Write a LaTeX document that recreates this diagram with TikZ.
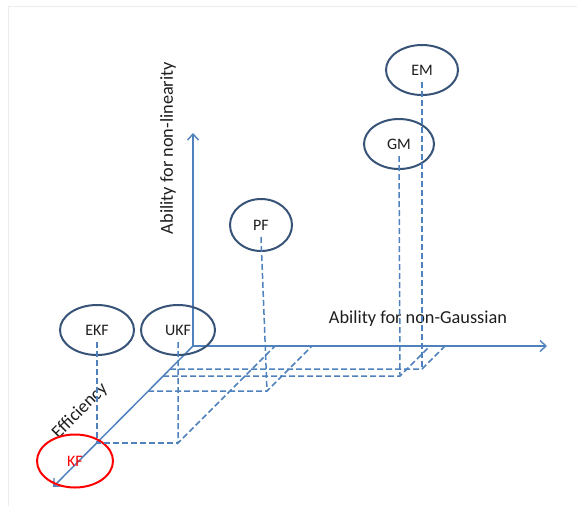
\documentclass[tikz,border=0pt]{standalone}
\usepackage{fontspec}
\setmainfont{Carlito}
\usetikzlibrary{arrows.meta,shapes.geometric}
\definecolor{axisblue}{RGB}{79,129,189}
\definecolor{ringblue}{RGB}{56,83,120}
\definecolor{txtdark}{RGB}{30,30,30}
\definecolor{framegray}{RGB}{236,236,236}
\tikzset{
  axisline/.style={draw=axisblue, line width=1.5pt, -{Straight Barb[length=6pt,width=11pt,line width=1.4pt]}},
  proj/.style={draw=axisblue, line width=1.5pt, dash pattern=on 6pt off 3pt},
  method/.style={ellipse, draw=ringblue, line width=2pt, minimum width=74pt, minimum height=50pt, inner sep=0pt, font=\fontsize{16}{18}\selectfont, text=txtdark},
  redmethod/.style={method, draw=red, text=red},
  axislabel/.style={font=\fontsize{18.3}{20}\selectfont, text=txtdark, inner sep=0pt}
}
\begin{document}
\begin{tikzpicture}[x=1pt,y=-1pt]
\useasboundingbox (0,0) rectangle (577,506);
\draw[framegray, line width=1pt] (8,506) -- (8,6) -- (577,6);
% axes
\coordinate (O) at (193,346);
\coordinate (ytip) at (193,133);
\coordinate (xtip) at (547,346);
\coordinate (ztip) at (53,487);
\draw[axisline] (O) -- (ytip);
\draw[axisline] (O) -- (xtip);
\draw[axisline] (O) -- (ztip);
% labels
\node[axislabel, rotate=90] (lnl) at (168,148) {Ability for non-linearity};
\node[axislabel] (lng) at (418,319) {Ability for non-Gaussian};
\node[axislabel, rotate=45] (leff) at (80,411) {Efficiency};
% methods
\node[method] (EKF) at (97,330) {EKF};
\node[method] (UKF) at (178,330) {UKF};
\node[method, minimum width=62pt, minimum height=52pt] (PF) at (261,225) {PF};
\node[method, minimum width=70pt] (GM) at (399,144) {GM};
\node[method, minimum width=72pt] (EM) at (422,70) {EM};
\node[redmethod, minimum width=76pt, minimum height=53pt] (KF) at (75,461) {KF};
% projection points
\coordinate (ekfB) at (97,443);
\coordinate (ukfB) at (178,443);
\coordinate (ukfX) at (275,346);
\coordinate (pfB) at (267,391);
\coordinate (pfZ) at (148,391);
\coordinate (pfX) at (312,346);
\coordinate (gmB) at (400,376);
\coordinate (gmZ) at (163,376);
\coordinate (gmX) at (430,346);
\coordinate (emB) at (422,369);
\coordinate (emZ) at (170,369);
\coordinate (emX) at (445,346);
% dashed projections
\draw[proj] (EKF.center) ++(0,12) -- (ekfB) -- (ukfB);
\draw[proj] (UKF.center) ++(0,12) -- (ukfB) -- (ukfX);
\draw[proj] (PF.center) ++(0,12) -- (pfB);
\draw[proj] (pfZ) -- (pfB) -- (pfX);
\draw[proj] (GM.center) ++(0,12) -- (gmB);
\draw[proj] (gmZ) -- (gmB) -- (gmX);
\draw[proj] (EM.center) ++(0,12) -- (emB);
\draw[proj] (emZ) -- (emB) -- (emX);
\end{tikzpicture}
\end{document}
